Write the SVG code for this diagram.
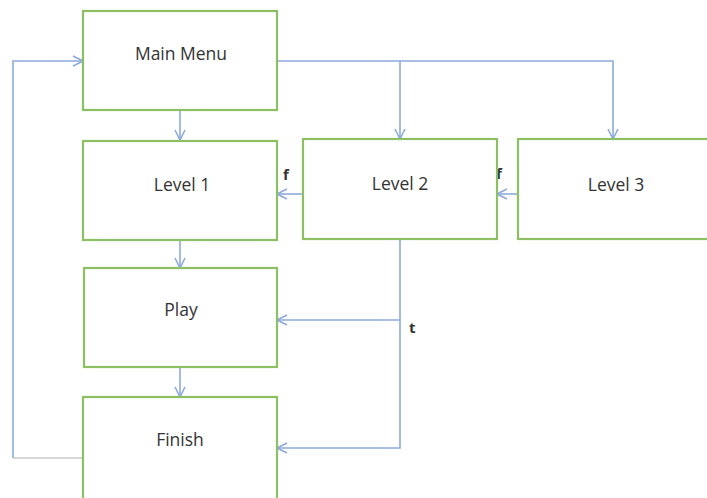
<svg xmlns="http://www.w3.org/2000/svg" width="707" height="498" viewBox="0 0 707 498">
<defs>
<style>
.box{fill:#fff;stroke:#8cc063;stroke-width:2.2}
.lbl{font-family:"Open Sans","Liberation Sans",sans-serif;font-size:17.5px;fill:#333;text-anchor:middle;font-weight:500}
.sm{font-family:"Open Sans","Liberation Sans",sans-serif;font-size:15px;fill:#333;font-weight:bold}
.ln{fill:none;stroke:#8eaadd;stroke-width:1.6}
.gr{fill:none;stroke:#c8c8c8;stroke-width:1.6}
</style>
<marker id="ah" viewBox="0 0 12 12" refX="11" refY="6" markerWidth="12" markerHeight="12" markerUnits="userSpaceOnUse" orient="auto">
<path d="M1,1 L11,6 L1,11" fill="none" stroke="#8eaadd" stroke-width="1.6"/>
</marker>
</defs>
<rect width="707" height="498" fill="#fff"/>
<g id="connectors">
<path class="ln" d="M277,61 H613 V139" marker-end="url(#ah)"/>
<path class="ln" d="M400,61 V139" marker-end="url(#ah)"/>
<path class="ln" d="M180,110 V140" marker-end="url(#ah)"/>
<path class="ln" d="M302,194 H277" marker-end="url(#ah)"/>
<path class="ln" d="M518,194 H497" marker-end="url(#ah)"/>
<path class="ln" d="M180,240 V268" marker-end="url(#ah)"/>
<path class="ln" d="M180,367 V397" marker-end="url(#ah)"/>
<path class="ln" d="M400,239 V448 H277" marker-end="url(#ah)"/>
<path class="ln" d="M400,320 H277" marker-end="url(#ah)"/>
<path class="gr" d="M83,458 H13"/>
<path class="ln" d="M13,458 V61 H83" marker-end="url(#ah)"/>
<text class="sm" x="283" y="180">f</text>
<text class="sm" x="496" y="179">f</text>
<text class="sm" x="409" y="333">t</text>
</g>
<g id="main-menu"><rect class="box" x="83" y="11" width="194" height="99"/><text class="lbl" x="181" y="60">Main Menu</text></g>
<g id="level-1"><rect class="box" x="83" y="141" width="194" height="99"/><text class="lbl" x="182" y="191">Level 1</text></g>
<g id="level-2"><rect class="box" x="303" y="139" width="194" height="100"/><text class="lbl" x="400" y="190">Level 2</text></g>
<g id="level-3"><rect class="box" x="518" y="139" width="200" height="100"/><text class="lbl" x="616" y="191">Level 3</text></g>
<g id="play"><rect class="box" x="84" y="268" width="193" height="99"/><text class="lbl" x="181" y="316">Play</text></g>
<g id="finish"><rect class="box" x="83" y="397" width="194" height="110"/><text class="lbl" x="180" y="446">Finish</text></g>
</svg>
